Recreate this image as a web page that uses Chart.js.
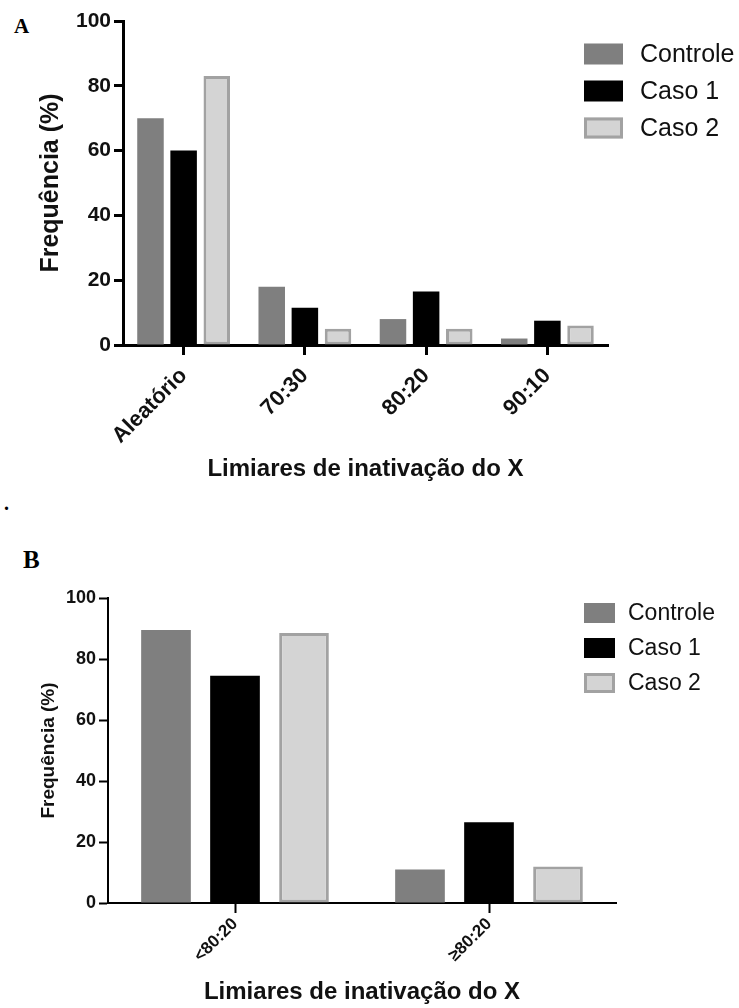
<!DOCTYPE html>
<html>
<head>
<meta charset="utf-8">
<script src="https://cdn.jsdelivr.net/npm/chart.js@4.4.1/dist/chart.umd.min.js"></script>
<style>
  body { margin: 0; background: #fff; }
  #page { position: relative; width: 739px; height: 1008px; overflow: hidden; }
  canvas { position: absolute; left: 0; }
  .tag { position: absolute; font-family: "Liberation Serif", "Times New Roman", serif; font-weight: bold; color: #000; }
</style>
</head>
<body>
<div id="page">
  <div class="tag" style="left:14px; top:14px; font-size:21px;">A</div>
  <div class="tag" style="left:4px; top:492px; font-size:20px;">.</div>
  <div class="tag" style="left:23px; top:546px; font-size:25px;">B</div>
  <canvas id="chartA" width="739" height="515" style="top:0"></canvas>
  <canvas id="chartB" width="739" height="488" style="top:520px"></canvas>
</div>
<script>
// dados do painel A
const categoriesA = ['Aleatório', '70:30', '80:20', '90:10'];
const controleA = [70, 18, 8, 2];
const caso1A = [60, 11.5, 16.5, 7.5];
const caso2A = [83, 5, 5, 6];

// dados do painel B
const categoriesB = ['<80:20', '≥80:20'];
const controleB = [89.5, 11];
const caso1B = [74.5, 26.5];
const caso2B = [88.5, 12];

const seriesLabels = ['Controle', 'Caso 1', 'Caso 2'];
const yTicks = [0, 20, 40, 60, 80, 100];
const xTitle = 'Limiares de inativação do X';
const yTitle = 'Frequência (%)';

const COLORS = {
  CONTROLE: '#7f7f7f',
  CASO1: '#000000',
  CASO2_FILL: '#d4d4d4',
  CASO2_BORDER: '#a2a2a2'
};
const FONT = '"Liberation Sans", Arial, Helvetica, sans-serif';

// legenda desenhada por cima da área do gráfico
const boxLegend = {
  id: 'boxLegend',
  afterDraw(chart, args, opts) {
    const ctx = chart.ctx;
    ctx.save();
    chart.data.datasets.forEach((ds, i) => {
      const cy = opts.y + i * opts.gap;
      const x = opts.x, y = cy - opts.boxH / 2;
      ctx.fillStyle = ds.backgroundColor;
      ctx.fillRect(x, y, opts.boxW, opts.boxH);
      if (ds.borderWidth) {
        const bw = ds.borderWidth;
        ctx.strokeStyle = ds.borderColor;
        ctx.lineWidth = bw;
        ctx.strokeRect(x + bw / 2, y + bw / 2, opts.boxW - bw, opts.boxH - bw);
      }
      ctx.fillStyle = '#111';
      ctx.font = opts.fontSize + 'px ' + FONT;
      ctx.textBaseline = 'middle';
      ctx.textAlign = 'left';
      ctx.fillText(ds.label, opts.textX, cy + 1);
    });
    ctx.restore();
  }
};

function makeDatasets(controle, caso1, caso2, bw) {
  return [
    { label: seriesLabels[0], data: controle, backgroundColor: COLORS.CONTROLE, borderWidth: 0 },
    { label: seriesLabels[1], data: caso1, backgroundColor: COLORS.CASO1, borderWidth: 0 },
    { label: seriesLabels[2], data: caso2, backgroundColor: COLORS.CASO2_FILL,
      borderColor: COLORS.CASO2_BORDER, borderWidth: bw, borderSkipped: false }
  ];
}

function buildChart(id, cfg) {
  const ctx = document.getElementById(id).getContext('2d');
  return new Chart(ctx, {
    type: 'bar',
    data: {
      labels: cfg.labels,
      datasets: makeDatasets(cfg.controle, cfg.caso1, cfg.caso2, cfg.borderW)
    },
    options: {
      responsive: false,
      animation: false,
      categoryPercentage: cfg.catPct,
      barPercentage: cfg.barPct,
      layout: { padding: cfg.padding },
      plugins: {
        legend: { display: false },
        tooltip: { enabled: false },
        boxLegend: cfg.legend
      },
      scales: {
        x: {
          afterFit(scale) { scale.height = cfg.xHeight; },
          border: { display: true, color: '#000', width: cfg.axisW },
          grid: { display: true, offset: false, drawOnChartArea: false, drawTicks: true,
                  tickLength: 10, tickWidth: cfg.axisW, color: '#000' },
          ticks: { color: '#111', minRotation: 45, maxRotation: 45, padding: cfg.xTickPad,
                   font: { family: FONT, size: cfg.xTickSize, weight: 'bold' } },
          title: { display: true, text: xTitle, color: '#111',
                   padding: { top: 0, bottom: cfg.xTitlePad },
                   font: { family: FONT, size: cfg.xTitleSize, weight: 'bold' } }
        },
        y: {
          min: 0,
          max: 100,
          afterFit(scale) { scale.width = cfg.yWidth; },
          afterBuildTicks(scale) { scale.ticks = yTicks.map(v => ({ value: v })); },
          border: { display: true, color: '#000', width: cfg.axisW },
          grid: { display: true, drawOnChartArea: false, drawTicks: true,
                  tickLength: 9, tickWidth: cfg.axisW, color: '#000' },
          ticks: { color: '#111', padding: 3,
                   font: { family: FONT, size: cfg.yTickSize, weight: 'bold' } },
          title: { display: true, text: yTitle, color: '#111',
                   padding: { top: cfg.yTitlePad, bottom: 0 },
                   font: { family: FONT, size: cfg.yTitleSize, weight: 'bold' } }
        }
      }
    },
    plugins: [boxLegend]
  });
}

buildChart('chartA', {
  labels: categoriesA, controle: controleA, caso1: caso1A, caso2: caso2A,
  borderW: 3, axisW: 3, catPct: 0.82, barPct: 0.8,
  padding: { left: 0, top: 21, right: 131, bottom: 0 },
  xHeight: 170, yWidth: 123,
  xTickSize: 22, xTickPad: 8, xTitleSize: 24, xTitlePad: 31,
  yTickSize: 21, yTitleSize: 25, yTitlePad: 36,
  legend: { x: 584, y: 54, gap: 37, boxW: 39, boxH: 21, textX: 640, fontSize: 25 }
});

buildChart('chartB', {
  labels: categoriesB, controle: controleB, caso1: caso1B, caso2: caso2B,
  borderW: 3, axisW: 2, catPct: 0.815, barPct: 0.72,
  padding: { left: 0, top: 78, right: 123, bottom: 0 },
  xHeight: 105, yWidth: 108,
  xTickSize: 17, xTickPad: 1, xTitleSize: 24, xTitlePad: 1,
  yTickSize: 18, yTitleSize: 19, yTitlePad: 37,
  legend: { x: 584, y: 93, gap: 35, boxW: 31, boxH: 20, textX: 628, fontSize: 23 }
});
</script>
</body>
</html>
